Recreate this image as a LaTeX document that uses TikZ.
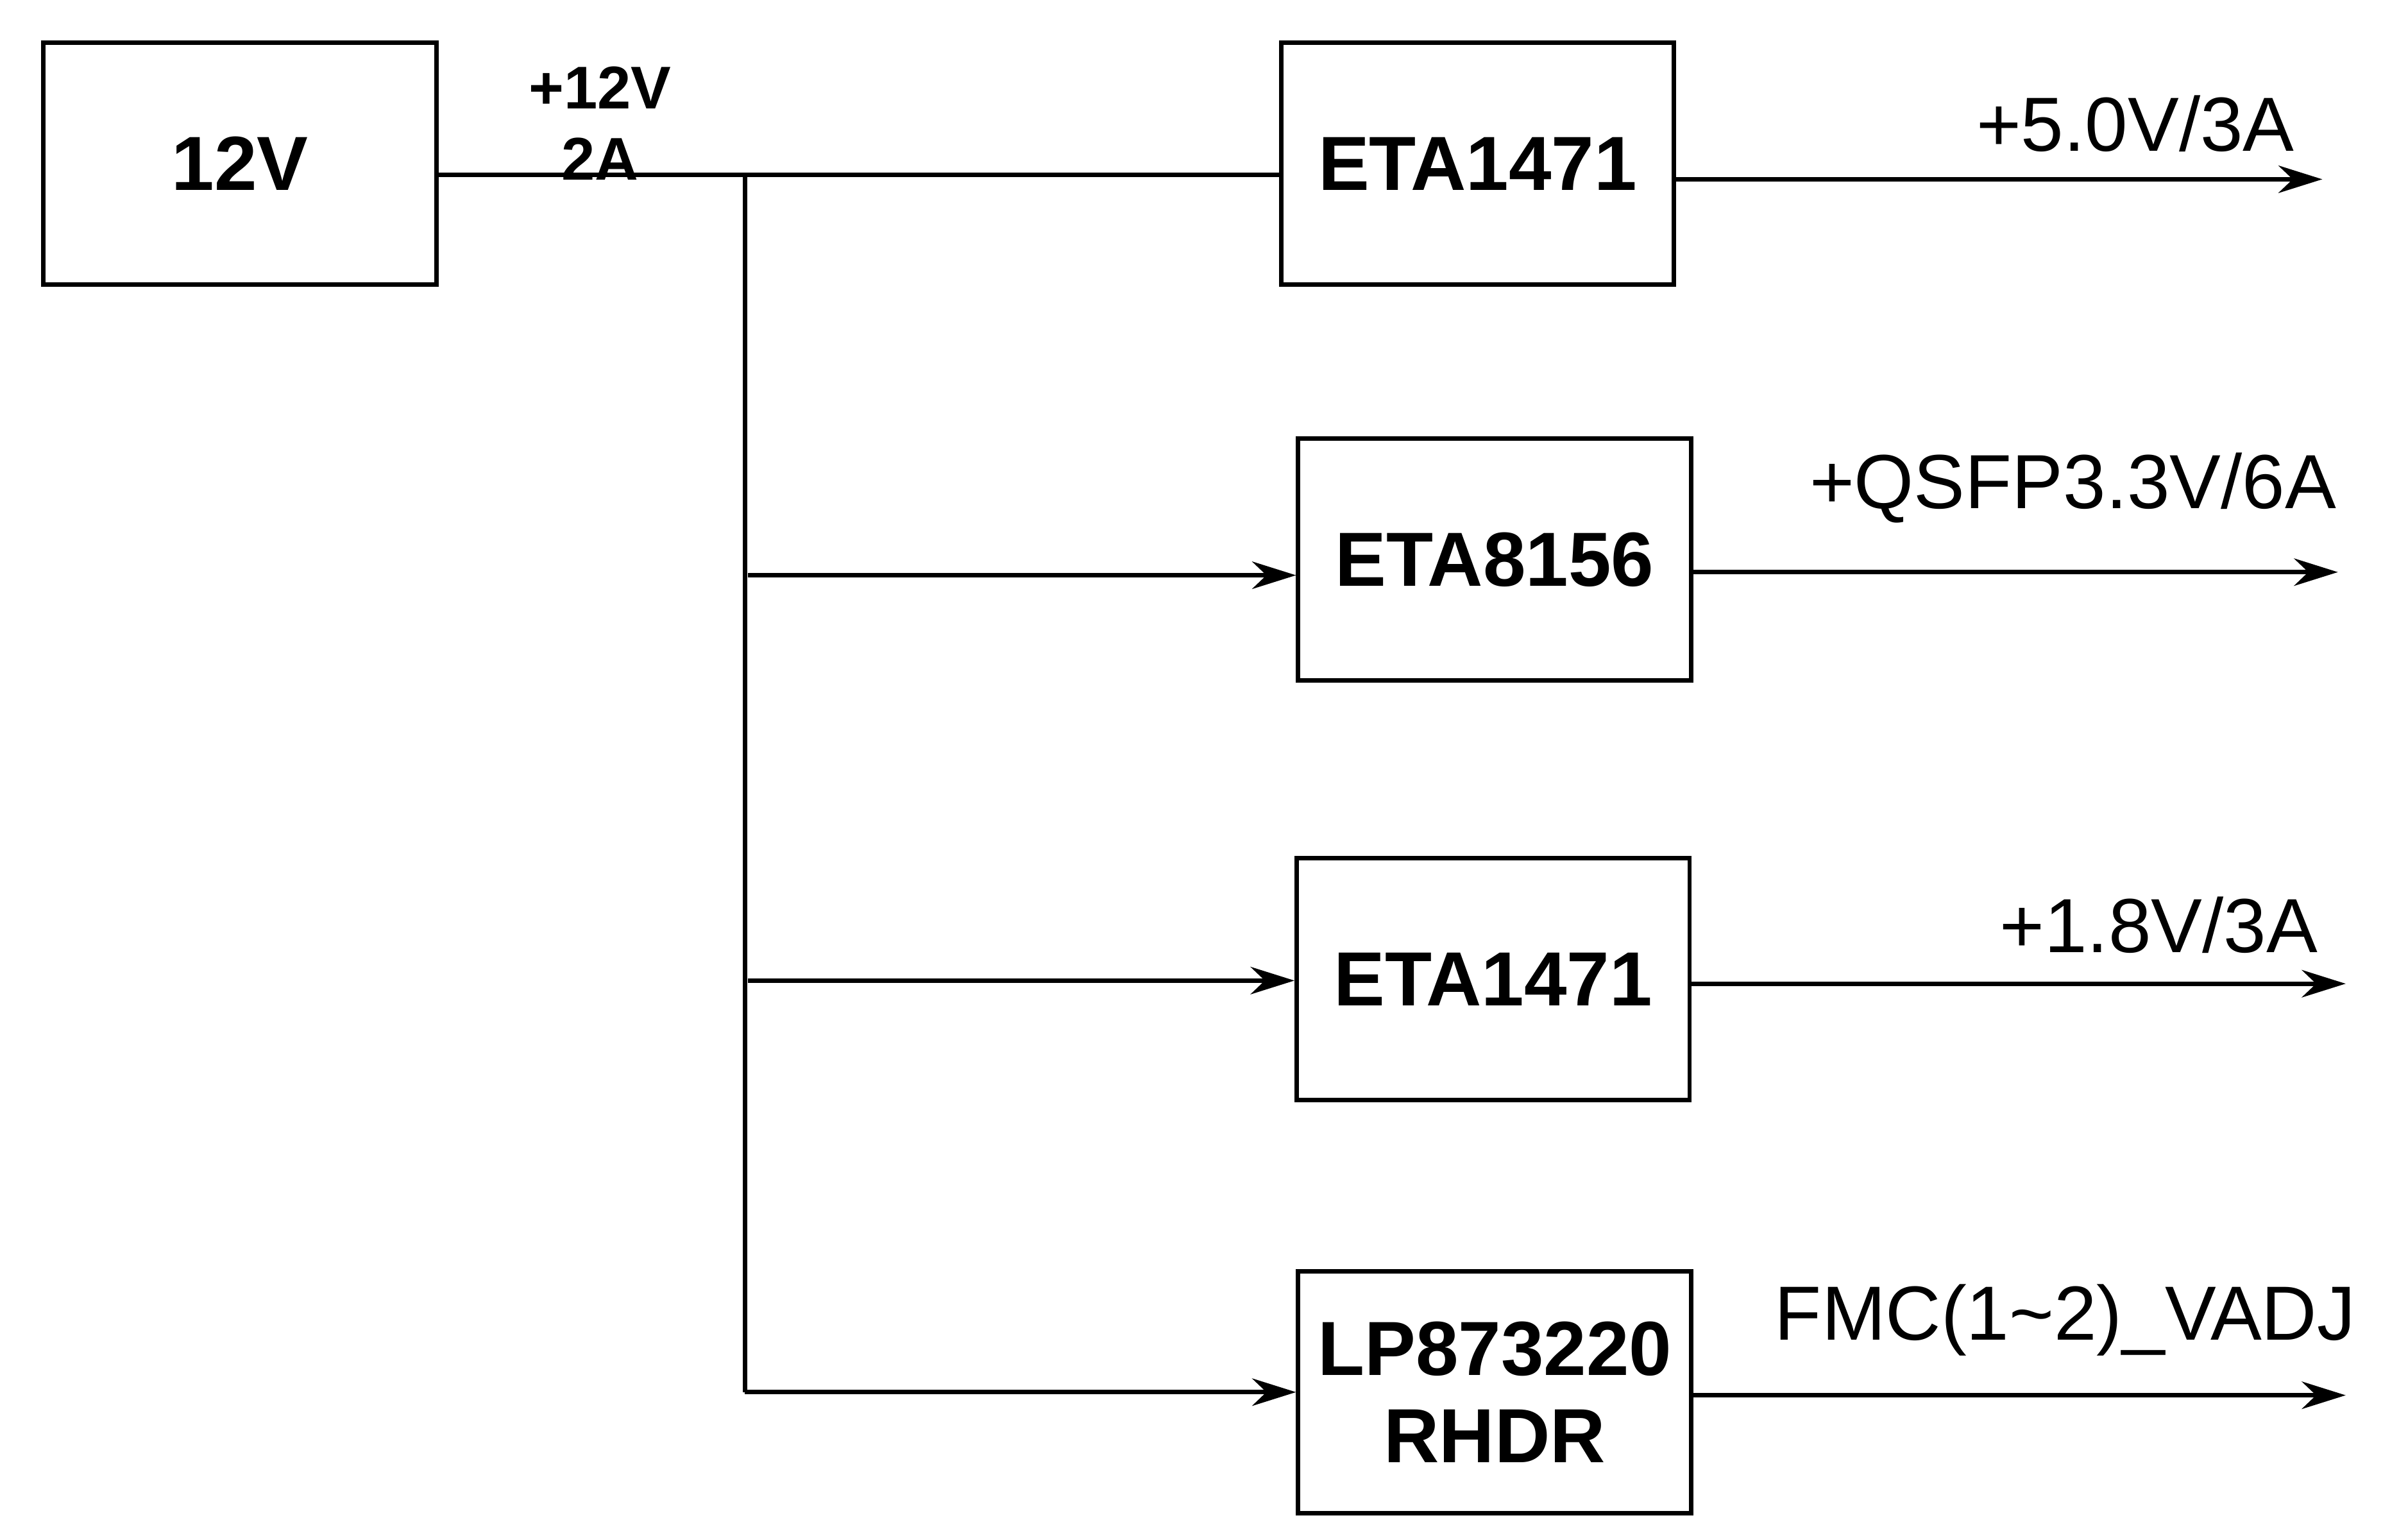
\documentclass[tikz,border=0pt]{standalone}
\usepackage{fontspec}
\setmainfont{Liberation Sans}
\usetikzlibrary{arrows.meta,positioning}
\begin{document}
\begin{tikzpicture}[
        x=0.01cm, y=-0.01cm,
        >={Stealth[length=8pt,width=5pt]},
        % Block styles
        block/.style={
            rectangle,
            draw=black,
            thick,
            minimum height=1.55cm,
            minimum width=2.52cm,
            align=center,
            font=\fontsize{14}{16}\selectfont\bfseries
        },
        rail/.style={font=\fontsize{14}{16}\selectfont, anchor=south},
        wire/.style={thick},
        arrow/.style={->, thick}
    ]
    \useasboundingbox (0,0) rectangle (1545,985);

    % Source
    \node[block] (src) at (154,105) {12V};
    \node[font=\fontsize{11}{13}\selectfont\bfseries, align=center] (inlbl) at (385,79) {+12V\\2A};

    % Regulators
    \node[block] (reg1) at (948,105) {ETA1471};
    \node[block] (reg2) at (959,359) {ETA8156};
    \node[block] (reg3) at (958,628) {ETA1471};
    \node[block] (reg4) at (959,893) {LP873220\\RHDR};

    % Bus
    \coordinate (bustop) at (478,112);
    \coordinate (busbot) at (478,893);
    \draw[wire] (src.east |- bustop) -- (reg1.west |- bustop);
    \draw[wire] (bustop) -- (busbot);
    \draw[arrow] (480,369) -- (reg2.west |- 0,369);
    \draw[arrow] (480,629) -- (reg3.west |- 0,629);
    \draw[arrow] (busbot) -- (reg4.west |- busbot);

    % Outputs
    \coordinate (o1) at (1490,115);
    \coordinate (o2) at (1500,367);
    \coordinate (o3) at (1505,631);
    \coordinate (o4) at (1505,895);
    \draw[arrow] (reg1.east |- o1) -- (o1);
    \draw[arrow] (reg2.east |- o2) -- (o2);
    \draw[arrow] (reg3.east |- o3) -- (o3);
    \draw[arrow] (reg4.east |- o4) -- (o4);
    \node[rail] (v1) at (1370,110) {+5.0V/3A};
    \node[rail] (v2) at (1330,348) {+QSFP3.3V/6A};
    \node[rail] (v3) at (1385,624) {+1.8V/3A};
    \node[rail] (v4) at (1325,882) {FMC(1\textasciitilde 2)\_VADJ};
\end{tikzpicture}
\end{document}
